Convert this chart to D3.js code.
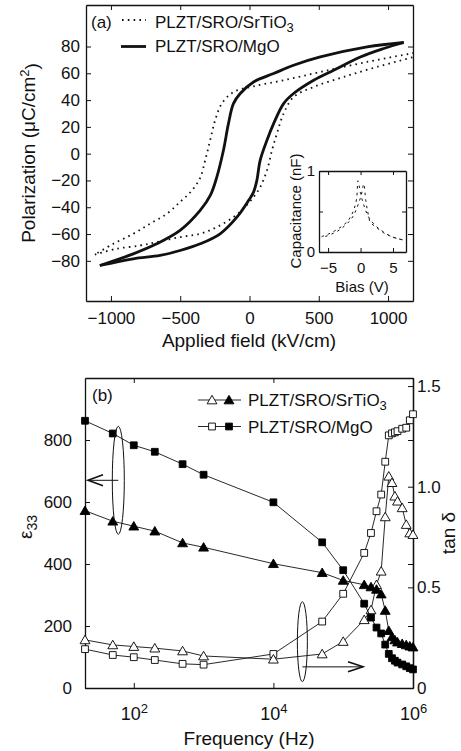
<!DOCTYPE html>
<html>
<head>
<meta charset="utf-8">
<script src="https://cdn.jsdelivr.net/npm/d3@7"></script>
<style>
  body { margin: 0; background: #fff; }
  svg { display: block; }
</style>
</head>
<body>
<div id="chart"></div>
<script>
// ---------- panel (a): P-E hysteresis loops, [field kV/cm, polarization uC/cm2] ----------
const mgoUpper = [[1113,83],[849,79.7],[511,72.2],[318,66],[174,59.8],[29,53.5],[-67,44.9],[-116,37.4],
  [-152,22.4],[-188,2.5],[-236,-17.5],[-282,-31],[-356,-42.4],[-501,-57.3],[-670,-67.3],[-839,-74.8],[-1080,-83.5]];
const mgoLower = [[-1080,-83.5],[-839,-78.5],[-646,-76],[-501,-72.3],[-356,-67.3],[-212,-59.8],[-91,-47.4],
  [-7,-35],[29,-28.7],[53,-20],[77,-5],[126,10],[174,22.4],[246,37.4],[318,44.9],[463,54.8],[607,62.3],
  [800,72.2],[969,78.5],[1113,83]];
const stoUpper = [[1186,75.2],[849,68.5],[511,61],[246,54.8],[29,50.3],[-116,46],[-200,37.4],[-248,24.9],
  [-284,10],[-320,-5],[-356,-18],[-420,-28],[-501,-36],[-597,-44.9],[-718,-52.3],[-839,-59.8],[-983,-67.3],[-1116,-75.3]];
const stoLower = [[-1116,-75.3],[-959,-71],[-790,-68.6],[-670,-66],[-501,-62.3],[-356,-59.8],[-236,-54.8],
  [-116,-47.4],[-43,-41],[29,-32.4],[77,-25],[126,-12.5],[162,2.5],[198,15],[246,29.9],[318,42.3],
  [463,49.8],[680,57.3],[921,64.8],[1186,72.2]];
const fieldTicks = [-1000, -500, 0, 500, 1000];
const polTicks = [-80, -60, -40, -20, 0, 20, 40, 60, 80];

// inset: C-V butterfly, [bias V, capacitance nF]
const cvDown = [[-6,0.19],[-5,0.22],[-4,0.26],[-3,0.31],[-2,0.38],[-1.5,0.44],[-1,0.53],[-0.6,0.66],
  [-0.4,0.88],[0,0.72],[0.5,0.58],[1,0.47],[1.5,0.4],[2.5,0.31],[3.5,0.25],[4.5,0.2],[5.5,0.17],[6.5,0.15]];
const cvUp = [[6.5,0.15],[5.5,0.17],[4.5,0.2],[3.5,0.24],[2.5,0.3],[1.5,0.37],[1.1,0.5],[0.8,0.64],
  [0.5,0.84],[0.1,0.7],[-0.4,0.58],[-0.9,0.48],[-1.5,0.4],[-2.5,0.32],[-3.5,0.26],[-4.5,0.22],[-5.5,0.19],[-6,0.18]];
const biasTicks = [-5, 0, 5];

// ---------- panel (b): dielectric constant and loss vs frequency ----------
const freqs   = [20,50,100,200,500,1e3,1e4,5e4,1e5,2e5,2.5e5,3e5,3.5e5,4e5,4.5e5,5e5,5.5e5,6e5,7e5,8e5,9e5,1e6];
const epsMgO  = [862,821,783,762,722,688,599,470,380,272,227,195,176,140,110,96,88,82,76,70,64,60];
const epsSTO  = [572,538,522,506,468,454,401,372,347,333,326,318,303,250,185,165,155,148,143,139,135,132];
const tanMgO  = [0.193,0.164,0.153,0.139,0.12,0.116,0.169,0.33,0.468,0.671,0.77,0.878,0.961,1.124,1.255,
  1.265,1.27,1.276,1.288,1.293,1.33,1.36];
const tanSTO  = [0.239,0.214,0.206,0.198,0.184,0.159,0.143,0.169,0.231,0.339,0.388,0.513,0.58,0.85,1.052,
  1.02,0.953,0.928,0.895,0.812,0.77,0.762];
const freqTicks = [1e2, 1e4, 1e6];
const epsTicks = [0, 200, 400, 600, 800];
const tanTicks = [0, 0.5, 1.0, 1.5];

const FONT = "'Liberation Sans', Arial, Helvetica, sans-serif";
const svg = d3.select("#chart").append("svg")
  .attr("width", 461).attr("height", 751)
  .attr("font-family", FONT);

const styleAxis = (g, size) => {
  g.attr("font-family", FONT).attr("font-size", size);
  g.select(".domain").attr("stroke-width", 1.3).attr("stroke", "#111");
  g.selectAll(".tick line").attr("stroke", "#111").attr("stroke-width", 1);
  g.selectAll(".tick text").attr("fill", "#111");
};

// ===== panel (a) =====
const xA = d3.scaleLinear().domain([-1180, 1180]).range([86, 413]);
const yA = d3.scaleLinear().domain([-110, 111]).range([301, 5]);

const gA = svg.append("g");
gA.append("defs").append("clipPath").attr("id", "clipA")
  .append("rect").attr("x", 86).attr("y", 5).attr("width", 327).attr("height", 296);

gA.append("g").attr("transform", "translate(0,301)")
  .call(d3.axisBottom(xA).tickValues(fieldTicks).tickFormat(d3.format("d"))
    .tickSize(-5).tickSizeOuter(0).tickPadding(11))
  .call(styleAxis, 17);
gA.append("g").attr("transform", "translate(0,5)")
  .call(d3.axisTop(xA).tickValues(fieldTicks).tickSize(-5).tickSizeOuter(0).tickFormat(""))
  .call(styleAxis, 17);
gA.append("g").attr("transform", "translate(86,0)")
  .call(d3.axisLeft(yA).tickValues(polTicks).tickFormat(d3.format("d"))
    .tickSize(-5).tickSizeOuter(0).tickPadding(6))
  .call(styleAxis, 17);
gA.append("g").attr("transform", "translate(413,0)")
  .call(d3.axisRight(yA).tickValues(polTicks).tickSize(-5).tickSizeOuter(0).tickFormat(""))
  .call(styleAxis, 17);

const loopLine = d3.line().x(d => xA(d[0])).y(d => yA(d[1])).curve(d3.curveCatmullRom.alpha(0.5));
const curves = gA.append("g").attr("clip-path", "url(#clipA)");
[stoUpper, stoLower].forEach(c => curves.append("path").attr("d", loopLine(c))
  .attr("fill", "none").attr("stroke", "#111").attr("stroke-width", 1.8)
  .attr("stroke-dasharray", "1.6,4.2"));
[mgoUpper, mgoLower].forEach(c => curves.append("path").attr("d", loopLine(c))
  .attr("fill", "none").attr("stroke", "#111").attr("stroke-width", 2.8)
  .attr("stroke-linejoin", "round"));

// labels (a)
const polLab = gA.append("text").attr("transform", "translate(35,153) rotate(-90)")
  .attr("text-anchor", "middle").attr("font-size", 19).attr("fill", "#111");
polLab.append("tspan").text("Polarization (μC/cm");
polLab.append("tspan").attr("dy", "-0.45em").attr("font-size", 13).text("2");
polLab.append("tspan").attr("dy", "0.45em").text(")");
gA.append("text").attr("x", 249).attr("y", 347).attr("text-anchor", "middle")
  .attr("font-size", 19).attr("fill", "#111").text("Applied field (kV/cm)");

// legend (a)
gA.append("text").attr("x", 91).attr("y", 28).attr("font-size", 17).attr("fill", "#111").text("(a)");
gA.append("line").attr("x1", 122).attr("x2", 146).attr("y1", 20).attr("y2", 20)
  .attr("stroke", "#111").attr("stroke-width", 1.8).attr("stroke-dasharray", "1.6,4.2");
const leg1 = gA.append("text").attr("x", 155).attr("y", 28).attr("font-size", 17).attr("fill", "#111");
leg1.append("tspan").text("PLZT/SRO/SrTiO");
leg1.append("tspan").attr("dy", "0.3em").attr("font-size", 13).text("3");
gA.append("line").attr("x1", 121).attr("x2", 146).attr("y1", 46.5).attr("y2", 46.5)
  .attr("stroke", "#111").attr("stroke-width", 2.8);
gA.append("text").attr("x", 155).attr("y", 52).attr("font-size", 17).attr("fill", "#111").text("PLZT/SRO/MgO");

// inset
const xI = d3.scaleLinear().domain([-6.4, 7]).range([319, 406]);
const yI = d3.scaleLinear().domain([0, 1]).range([252, 171]);
const gI = svg.append("g");
gI.append("rect").attr("x", 319).attr("y", 171).attr("width", 87).attr("height", 81).attr("fill", "#fff");
gI.append("g").attr("transform", "translate(0,252)")
  .call(d3.axisBottom(xI).tickValues(biasTicks).tickFormat(d3.format("d"))
    .tickSize(-4).tickSizeOuter(0).tickPadding(10))
  .call(styleAxis, 15);
gI.append("g").attr("transform", "translate(0,171)")
  .call(d3.axisTop(xI).tickValues(biasTicks).tickSize(-4).tickSizeOuter(0).tickFormat(""))
  .call(styleAxis, 15);
gI.append("g").attr("transform", "translate(319,0)")
  .call(d3.axisLeft(yI).tickValues([0, 0.5, 1]).tickSize(-4).tickSizeOuter(0).tickPadding(4)
    .tickFormat(d => d === 0.5 ? "" : d3.format("d")(d)))
  .call(styleAxis, 15);
gI.append("g").attr("transform", "translate(406,0)")
  .call(d3.axisRight(yI).tickValues([0, 0.5, 1]).tickSize(-4).tickSizeOuter(0).tickFormat(""))
  .call(styleAxis, 15);
const cvLine = d3.line().x(d => xI(d[0])).y(d => yI(d[1])).curve(d3.curveCatmullRom.alpha(0.5));
[cvDown, cvUp].forEach(c => gI.append("path").attr("d", cvLine(c))
  .attr("fill", "none").attr("stroke", "#111").attr("stroke-width", 1).attr("stroke-dasharray", "2.5,4"));
gI.append("text").attr("transform", "translate(301,211) rotate(-90)").attr("text-anchor", "middle")
  .attr("font-size", 15).attr("fill", "#111").text("Capacitance (nF)");
gI.append("text").attr("x", 362).attr("y", 292).attr("text-anchor", "middle")
  .attr("font-size", 15).attr("fill", "#111").text("Bias (V)");

// ===== panel (b) =====
const xB = d3.scaleLog().domain([20, 1e6]).range([85, 413]);
const yL = d3.scaleLinear().domain([0, 1000]).range([688, 378]);
const yR = d3.scaleLinear().domain([0, 1.54]).range([688, 378]);
const gB = svg.append("g");

const xAxisB = gB.append("g").attr("transform", "translate(0,688)")
  .call(d3.axisBottom(xB).tickValues(freqTicks).tickSize(-5).tickSizeOuter(0).tickPadding(19).tickFormat(""))
  .call(styleAxis, 18);
xAxisB.selectAll(".tick text").each(function (d) {
  const t = d3.select(this);
  t.append("tspan").text("10");
  t.append("tspan").attr("dy", "-0.55em").attr("font-size", 13).text(Math.round(Math.log10(d)));
});
gB.append("g").attr("transform", "translate(0,378)")
  .call(d3.axisTop(xB).tickValues(freqTicks).tickSize(-5).tickSizeOuter(0).tickFormat(""))
  .call(styleAxis, 17);
gB.append("g").attr("transform", "translate(85,0)")
  .call(d3.axisLeft(yL).tickValues(epsTicks).tickSize(-5).tickSizeOuter(0).tickPadding(13))
  .call(styleAxis, 17);
gB.append("g").attr("transform", "translate(413,0)")
  .call(d3.axisRight(yL).tickValues(epsTicks).tickSize(-5).tickSizeOuter(0).tickFormat(""))
  .call(styleAxis, 17);
gB.append("g").attr("transform", "translate(413,0)")
  .call(d3.axisRight(yR).tickValues(tanTicks).tickSize(-5).tickSizeOuter(0).tickPadding(4)
    .tickFormat(d => d === 0 ? "0" : d3.format(".1f")(d)))
  .call(styleAxis, 17);

const tri = d3.symbol().type(d3.symbolTriangle).size(42);
const sq = d3.symbol().type(d3.symbolSquare).size(46);

const drawSeries = (vals, yScale, shape, filled) => {
  const pts = freqs.map((f, i) => [xB(f), yScale(vals[i])]);
  gB.append("path").attr("d", d3.line()(pts))
    .attr("fill", "none").attr("stroke", "#111").attr("stroke-width", 0.9);
  gB.append("g").selectAll("path").data(pts).join("path")
    .attr("transform", d => `translate(${d[0]},${d[1] + (shape === tri ? 1 : 0)})`)
    .attr("d", shape)
    .attr("fill", filled ? "#000" : "#fff")
    .attr("stroke", "#000").attr("stroke-width", 0.9);
};
drawSeries(tanMgO, yR, sq, false);
drawSeries(tanSTO, yR, tri, false);
drawSeries(epsSTO, yL, tri, true);
drawSeries(epsMgO, yL, sq, true);

// annotations: ellipses with arrows
const ann = gB.append("g").attr("fill", "none").attr("stroke", "#111").attr("stroke-width", 1);
ann.append("ellipse").attr("cx", xB(60)).attr("cy", yL(670)).attr("rx", 6).attr("ry", 54);
ann.append("line").attr("x1", xB(60)).attr("x2", 88).attr("y1", yL(670)).attr("y2", yL(670));
ann.append("path").attr("d", `M103,${yL(670) - 5.5} L88,${yL(670)} L103,${yL(670) + 5.5}`).attr("stroke-width", 1.6);
ann.append("ellipse").attr("cx", xB(2.6e4)).attr("cy", yR(0.23)).attr("rx", 5).attr("ry", 40);
ann.append("line").attr("x1", xB(2.6e4)).attr("x2", 363).attr("y1", yR(0.105)).attr("y2", yR(0.105));
ann.append("path").attr("d", `M348,${yR(0.105) - 5} L363,${yR(0.105)} L348,${yR(0.105) + 5}`).attr("stroke-width", 1.6);

// axis labels (b)
const epsLab = gB.append("text").attr("transform", "translate(32,527) rotate(-90)")
  .attr("text-anchor", "middle").attr("font-size", 19).attr("fill", "#111");
epsLab.append("tspan").text("ε");
epsLab.append("tspan").attr("dy", "0.35em").attr("font-size", 14).text("33");
gB.append("text").attr("transform", "translate(455,533) rotate(-90)")
  .attr("text-anchor", "middle").attr("font-size", 19).attr("fill", "#111").text("tan δ");
gB.append("text").attr("x", 249).attr("y", 745).attr("text-anchor", "middle")
  .attr("font-size", 19).attr("fill", "#111").text("Frequency (Hz)");

// legend (b)
gB.append("text").attr("x", 92).attr("y", 401).attr("font-size", 17).attr("fill", "#111").text("(b)");
const legRows = [
  { y: 400, shape: tri, label: "PLZT/SRO/SrTiO", sub: "3" },
  { y: 426.5, shape: sq, label: "PLZT/SRO/MgO", sub: "" }
];
legRows.forEach(r => {
  gB.append("line").attr("x1", 198).attr("x2", 241).attr("y1", r.y).attr("y2", r.y)
    .attr("stroke", "#111").attr("stroke-width", 0.9);
  gB.append("path").attr("d", r.shape).attr("transform", `translate(212,${r.y + (r.shape === tri ? 1 : 0)})`)
    .attr("fill", "#fff").attr("stroke", "#000").attr("stroke-width", 0.9);
  gB.append("path").attr("d", r.shape).attr("transform", `translate(229,${r.y + (r.shape === tri ? 1 : 0)})`)
    .attr("fill", "#000").attr("stroke", "#000").attr("stroke-width", 0.9);
  const t = gB.append("text").attr("x", 248).attr("y", r.y + 6).attr("font-size", 17).attr("fill", "#111");
  t.append("tspan").text(r.label);
  if (r.sub) t.append("tspan").attr("dy", "0.3em").attr("font-size", 13).text(r.sub);
});
</script>
</body>
</html>
